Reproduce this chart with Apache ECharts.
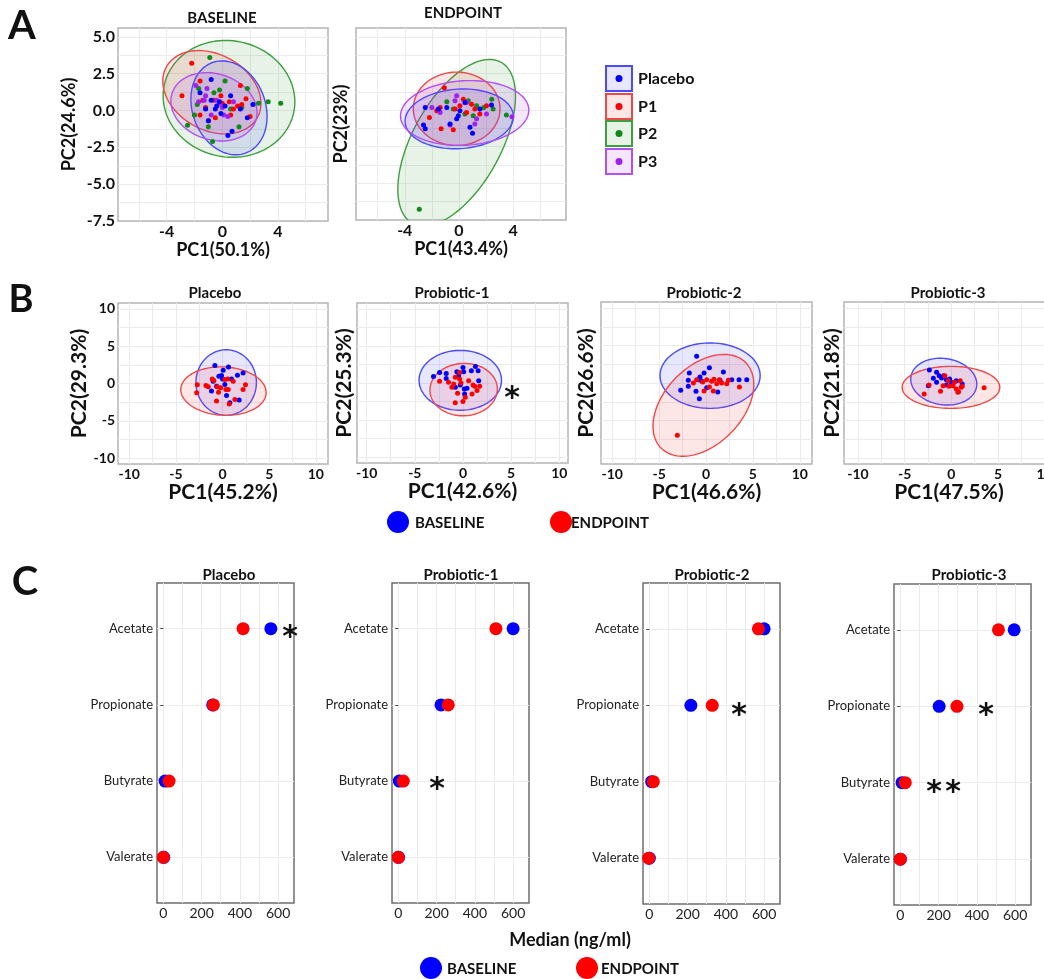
<!DOCTYPE html>
<html><head><meta charset="utf-8">
<script src="https://cdn.jsdelivr.net/npm/echarts@6/dist/echarts.min.js"></script>
<style>html,body{margin:0;padding:0;background:#fff}#c{width:1044px;height:979px}</style>
</head><body><div id="c"></div>
<script>
// ================= DATA =================
// Panel A: PCA score points per group  [PC1, PC2]
const aBasePlacebo = [[-0.8,2.1],[0.2,0.3],[-0.1,-0.2],[-0.4,0.3],[1.8,-0.5],[2.2,0.4],[0.7,-1.4],[0.4,-1.7],[-1.0,-0.7],[-1.2,0.1],[-0.8,0.7],[0.6,1.0],[1.3,0.1],[-0.2,0.6],[-0.5,0.1],[-1.6,1.2]];
const aBaseP1 = [[-2.2,3.2],[-2.9,1.0],[-1.6,2.0],[1.3,1.7],[1.7,0.8],[1.4,0.4],[0.5,0.6],[0,0.5],[-0.6,0.7],[-1.2,0.2],[-1.4,0.7],[-0.5,-0.5],[0.8,0.1],[0.6,-0.3],[-0.1,1.0],[-1.6,-0.3],[1.1,0.3],[-1.0,-0.7],[2.0,-0.4]];
const aBaseP2 = [[-0.9,3.6],[0.2,2.0],[1.8,1.5],[2.6,0.5],[3.3,0.6],[4.2,0.5],[-2.5,-1.0],[-0.7,-2.1],[1.2,-1.1],[-1.0,-1.1],[-1.7,1.5],[-1.8,0.4],[-0.6,1.2],[0.6,0.1],[1.4,0.2],[-2.0,-0.3],[-0.2,1.4]];
const aBaseP3 = [[-1.9,1.7],[-1.1,1.5],[-1.3,0.7],[-0.4,0.7],[0,0.2],[0.4,-0.4],[-1.7,0.6],[-0.8,-0.3],[0.8,0.6],[-0.2,0.5],[-1.2,1.0],[0.1,-0.3]];
const aEndPlacebo = [[-2.49,0.18],[-2.62,-1.01],[-2.49,-1.28],[-1.52,0.07],[-0.9,0.18],[-0.17,-0.6],[-0.05,-0.38],[0.44,0.52],[0.81,-1.17],[1.0,-1.58],[1.54,0.07],[2.4,0.34],[-0.66,-0.95],[0.07,-0.05]];
const aEndP1 = [[-1.08,1.53],[-2.18,-0.5],[-1.32,-1.28],[-0.42,-1.35],[0.32,0.74],[0.93,0.4],[1.17,0.07],[0.56,-0.16],[1.54,-0.27],[-1.64,-0.05],[0.07,0.29],[-0.29,0.07],[-1.39,0.18],[2.03,0.29]];
const aEndP2 = [[-2.93,-6.76],[3.5,-0.34],[2.52,0.07],[1.83,0.18],[0.68,0.63],[-0.9,0.56],[1.05,-0.38],[0.44,-0.27],[-0.42,0.07],[1.3,0.29],[2.42,0.74]];
const aEndP3 = [[3.91,-0.45],[-2.0,0.18],[-0.17,0.97],[-0.66,-1.01],[1.3,-0.6],[0.56,0.52],[-0.29,0.63],[1.17,-0.95],[2.03,-0.27],[-1.39,-0.16]];
// Panel A ellipses  [centre PC1, centre PC2, semi-axis a, semi-axis b, angle of a (deg)]
const ellABasePlacebo = [0.48, 0.18, 3.3, 2.6, -65];
const ellABaseP1 = [-0.75, 1.24, 3.7, 2.6, -25];
const ellABaseP2 = [0.48, 0.79, 4.75, 3.95, -8];
const ellABaseP3 = [-0.6, 0.25, 3.15, 2.25, -15];
const ellAEndPlacebo = [0.02, -0.6, 4.0, 2.03, 3];
const ellAEndP1 = [-0.17, 0.09, 3.2, 2.5, 0];
const ellAEndP2 = [-0.17, -2.23, 6.4, 3.2, 58];
const ellAEndP3 = [0.42, -0.2, 4.74, 2.2, 3];
const aGroups = ['Placebo', 'P1', 'P2', 'P3'];

// Panel B: PCA per arm, BASELINE vs ENDPOINT
const bPlaceboBase = [[-0.82,2.4],[0.07,1.78],[0.64,2.22],[-0.39,0.98],[-0.11,1.07],[0,0.62],[0.96,0.62],[1.6,1.11],[2.2,1.42],[-1,0.31],[-1.18,-1.02],[0.43,-1.6],[0.78,-2.58],[1.78,-2.22],[-0.64,-0.36],[0.25,-0.13]];
const bPlaceboEnd = [[-2.7,-0.18],[-2.77,-1.24],[-1.78,-0.27],[-1.1,0.62],[-0.93,0.4],[-0.57,-0.44],[-0.21,-0.58],[0.25,0.53],[0.57,0.62],[1.14,0.31],[0.61,-0.8],[-0.43,-1.16],[-0.64,-2.36],[0.71,-2.76],[1.32,-2.13],[2.2,-0.8],[2.46,-0.18],[-1.53,-0.44],[0.36,-0.8]];
const bP1Base = [[-3.06,0.89],[-2.43,1.42],[-1.74,1.29],[-1.74,0.62],[-0.63,1.51],[0,2.09],[0.07,1.51],[0.87,1.64],[1.29,2.22],[1.57,1.64],[1.63,0.31],[-0.8,-0.58],[-0.28,-0.27],[0.14,-0.8],[0.42,-0.71],[0.17,-1.47],[-0.45,0.98]];
const bP1End = [[-2.43,0.22],[-1.5,0.09],[-0.97,-0.13],[-0.8,0.76],[-0.35,0.53],[-0.21,0],[0.59,0.31],[1.04,-0.27],[1.22,-0.44],[1.74,-0.44],[1.46,-1.02],[0.94,-1.47],[-0.56,-1.38],[-0.8,-2.67],[0,-2.49],[0.24,-1.91],[-1.15,-0.58],[-0.35,1.42]];
const bP2Base = [[-1.0,3.56],[-1.78,1.33],[-1.89,0.36],[-1.89,-0.44],[-2.7,-0.98],[-1.07,-1.11],[-0.71,-2.09],[-0.46,0.27],[-0.64,0.8],[-0.21,1.33],[0.36,2.04],[1.85,1.47],[1.49,0.36],[2.74,0.44],[3.52,0.44],[4.34,0.44],[1.25,-1.2],[0.07,-0.62],[-0.82,0.44]];
const bP2End = [[-3.06,-6.98],[-1.35,0],[-1.0,0.44],[-0.36,0.13],[0.07,0.44],[0.6,0.22],[0.85,0.49],[1.14,-0.09],[1.67,0],[2.21,-0.09],[2.38,0.36],[3.56,-0.53],[0.78,-1.07],[-0.21,-1.07],[0.36,-0.53],[1.42,0.44]];
const bP3Base = [[-2.35,1.73],[-1.58,1.42],[-1.3,0.98],[-1.93,0.62],[-1.05,0.67],[-0.81,0.98],[-0.53,0.44],[-0.18,0.53],[0,0.09],[1.16,-0.13],[-1.58,0.09],[-0.53,-0.27],[-2.46,-0.36],[0.53,0.31]];
const bP3End = [[-2.91,-1.47],[-2.39,-0.27],[-1.16,-1.11],[-0.88,-0.36],[-0.7,0.98],[-0.35,0.31],[-0.25,-0.44],[0.18,-0.36],[0.53,-0.8],[0.77,-1.16],[0.95,0.31],[1.05,-0.58],[1.16,-0.44],[3.51,-0.62],[0.7,-1.24],[0.35,0.09]];
const ellBPlaceboBase = [0.39, 0.13, 4.4, 3.24, 90];
const ellBPlaceboEnd = [0.1, -1.02, 4.58, 3.24, -5];
const ellBP1Base = [-0.28, 0.36, 4.28, 4.04, 0];
const ellBP1End = [0.07, -0.89, 3.56, 3.48, 60];
const ellBP2Base = [0.43, 0.98, 5.34, 4.36, 0];
const ellBP2End = [-0.28, -2.98, 7.4, 4.5, 60];
const ellBP3Base = [-0.81, 0.18, 3.6, 3.05, -20];
const ellBP3End = [-0.04, -0.58, 5.23, 2.8, 0];

// Panel C: medians (ng/ml), order = cCategories (bottom -> top)
const cCategories = ['Valerate', 'Butyrate', 'Propionate', 'Acetate'];
const cPlaceboBase = [2, 9, 258, 562];
const cPlaceboEnd = [0, 30, 262, 417];
const cP1Base = [1, 5, 223, 600];
const cP1End = [0, 26, 261, 510];
const cP2Base = [0, 12, 217, 600];
const cP2End = [-3, 21, 329, 570];
const cP3Base = [0, 9, 203, 595];
const cP3End = [0, 26, 296, 513];

// Tick labels
const aXTicks = [-4, 0, 4];
const aYTicks = [-7.5, -5, -2.5, 0, 2.5, 5];
const bTicks = [-10, -5, 0, 5, 10];
const cXTicks = [0, 200, 400, 600];

// ================= BUILD =================
const FONT = "Lato, 'Open Sans', sans-serif";
const PT = {Placebo:'#0000ff', P1:'#ff0000', P2:'#11881a', P3:'#a020f0'};
const EL = {Placebo:['#4a4aff','rgba(70,70,255,0.13)'], P1:['#f04848','rgba(240,60,60,0.13)'],
            P2:['#3f9f3f','rgba(60,160,60,0.13)'], P3:['#b050f0','rgba(170,70,240,0.13)']};
const grids=[], xAxes=[], yAxes=[], series=[], graphics=[];
function steps(a,b,s){const r=[];for(let v=a;v<=b+1e-9;v+=s)r.push(+v.toFixed(4));return r;}

function addGrid(o){
  const gi = grids.length;
  grids.push({left:o.left, top:o.top, width:o.width, height:o.height, show:true, backgroundColor:'#ffffff',
    borderColor:o.border||'#b4b4b4', borderWidth:1.5, containLabel:false, outerBoundsMode:'none'});
  xAxes.push({gridIndex:gi, type:'value', min:o.xMin, max:o.xMax,
    name:o.xName||'', nameLocation:'middle', nameGap:o.xNameGap||0,
    nameTextStyle:{fontFamily:FONT, fontWeight:'bold', fontSize:o.nameSize||17, color:'#111'},
    axisLine:{show:false}, axisTick:{show:false, customValues:o.xGrid},
    axisLabel:{show:!!o.xLabels, customValues:o.xLabels||[], margin:o.xMargin||3, fontFamily:FONT,
      fontWeight:o.tickWeight||'bold', fontSize:o.tickSize||14, color:o.tickColor||'#111', formatter:v=>String(v)},
    splitLine:{show:true, lineStyle:{color:'#ebebeb', width:1}}});
  yAxes.push({gridIndex:gi, type:'value', min:o.yMin, max:o.yMax,
    name:o.yName||'', nameLocation:'middle', nameGap:o.yNameGap||0,
    nameTextStyle:{fontFamily:FONT, fontWeight:'bold', fontSize:o.nameSize||17, color:'#111'},
    axisLine:{show:false}, axisTick:{show:!!o.yTickShow, length:3, lineStyle:{color:'#444'}, customValues:o.yGrid},
    axisLabel:{show:!!o.yLabels, customValues:o.yLabels||[], margin:o.yMargin||3, fontFamily:FONT,
      fontWeight:o.yTickWeight||'bold', fontSize:o.yTickSize||14, color:o.tickColor||'#111', formatter:o.yFmt||(v=>String(v))},
    splitLine:{show:true, lineStyle:{color:'#ebebeb', width:1}}});
  return gi;
}
function ellipse(gi, p, grp, z){
  series.push({type:'custom', xAxisIndex:gi, yAxisIndex:gi, clip:true, silent:true, z:z||1, data:[p],
    renderItem:(params, api)=>{
      const cx=api.value(0), cy=api.value(1), a=api.value(2), b=api.value(3), th=api.value(4)*Math.PI/180;
      const pts=[];
      for(let k=0;k<=120;k++){const t=k/120*2*Math.PI;
        pts.push(api.coord([cx+a*Math.cos(t)*Math.cos(th)-b*Math.sin(t)*Math.sin(th),
                            cy+a*Math.cos(t)*Math.sin(th)+b*Math.sin(t)*Math.cos(th)]));}
      return {type:'polygon', shape:{points:pts}, style:{fill:EL[grp][1], stroke:EL[grp][0], lineWidth:1.4}};
    }});
}
function points(gi, data, color, size, z){
  series.push({type:'scatter', xAxisIndex:gi, yAxisIndex:gi, data, symbolSize:size, silent:true, z:z||3,
    itemStyle:{color, opacity:1}});
}
function T(text, x, y, size, o){ o=o||{};
  graphics.push({type:'text', x, y, silent:true, z:100, style:{text, fill:o.color||'#111',
    font:(o.weight||'bold')+' '+size+'px '+(o.family||FONT), align:o.align||'center', verticalAlign:'middle'}});
}
function dot(cx, cy, r, fill){ graphics.push({type:'circle', silent:true, z:100, shape:{cx,cy,r}, style:{fill}}); }

// ---- Panel A ----
const aY = {yMin:-7.5, yMax:5.6, yGrid:steps(-6.25,5,1.25), nameSize:18, tickSize:16, yTickSize:16};
const gA1 = addGrid(Object.assign({left:118, top:28, width:210, height:193, xMin:-7.5, xMax:7.6, xGrid:steps(-6,6,2),
  xLabels:aXTicks, yLabels:aYTicks, yFmt:v=>v.toFixed(1), xName:'PC1(50.1%)', xNameGap:14, yName:'PC2(24.6%)', yNameGap:40}, aY));
const gA2 = addGrid(Object.assign({left:356, top:28, width:210, height:192, xMin:-7.6, xMax:7.9, xGrid:steps(-6,6,2),
  xLabels:aXTicks, xName:'PC1(43.4%)', xNameGap:14, yName:'PC2(23%)', yNameGap:6}, aY));
ellipse(gA1, ellABaseP2, 'P2'); ellipse(gA1, ellABaseP1, 'P1'); ellipse(gA1, ellABasePlacebo, 'Placebo'); ellipse(gA1, ellABaseP3, 'P3');
points(gA1, aBaseP2, PT.P2, 5); points(gA1, aBaseP1, PT.P1, 5); points(gA1, aBaseP3, PT.P3, 5); points(gA1, aBasePlacebo, PT.Placebo, 5);
ellipse(gA2, ellAEndP2, 'P2'); ellipse(gA2, ellAEndP1, 'P1'); ellipse(gA2, ellAEndPlacebo, 'Placebo'); ellipse(gA2, ellAEndP3, 'P3');
points(gA2, aEndP2, PT.P2, 5); points(gA2, aEndP1, PT.P1, 5); points(gA2, aEndP3, PT.P3, 5); points(gA2, aEndPlacebo, PT.Placebo, 5);
T('BASELINE', 222, 18, 15); T('ENDPOINT', 463, 13, 15);
// legend A
const legTop = [66, 94, 121, 149];
aGroups.forEach((g,i)=>{
  graphics.push({type:'rect', silent:true, z:100, shape:{x:606, y:legTop[i], width:26, height:25},
    style:{fill:EL[g][1], stroke:EL[g][0], lineWidth:2}});
  dot(619, legTop[i]+12.5, 3.5, PT[g]);
  T(g, 638, legTop[i]+13, 16, {align:'left'});
});

// ---- Panel B ----
const bY = {yMin:-10.8, yMax:10.8, yGrid:steps(-10,10,2.5), xGrid:steps(-10,10,2.5), xLabels:bTicks, nameSize:21, tickSize:14, yTickSize:14, xNameGap:16};
const gB1 = addGrid(Object.assign({left:118, top:303, width:210, height:161, xMin:-11.2, xMax:11.3, yLabels:bTicks,
  xName:'PC1(45.2%)', yName:'PC2(29.3%)', yNameGap:21}, bY));
const gB2 = addGrid(Object.assign({left:357, top:303, width:211, height:160, xMin:-11.0, xMax:10.9,
  xName:'PC1(42.6%)', yName:'PC2(25.3%)', yNameGap:2}, bY));
const gB3 = addGrid(Object.assign({left:601, top:302, width:211, height:162, xMin:-11.2, xMax:11.3,
  xName:'PC1(46.6%)', yName:'PC2(26.6%)', yNameGap:4}, bY));
const gB4 = addGrid(Object.assign({left:844, top:302, width:210, height:162, xMin:-11.5, xMax:11.0,
  xName:'PC1(47.5%)', yName:'PC2(21.8%)', yNameGap:1}, bY));
[[gB1,ellBPlaceboBase,ellBPlaceboEnd,bPlaceboBase,bPlaceboEnd],[gB2,ellBP1Base,ellBP1End,bP1Base,bP1End],
 [gB3,ellBP2Base,ellBP2End,bP2Base,bP2End],[gB4,ellBP3Base,ellBP3End,bP3Base,bP3End]].forEach(r=>{
  ellipse(r[0], r[1], 'Placebo'); ellipse(r[0], r[2], 'P1');
  points(r[0], r[3], PT.Placebo, 5); points(r[0], r[4], PT.P1, 5);
});
T('Placebo', 215, 293, 15); T('Probiotic-1', 452, 293, 15); T('Probiotic-2', 704, 293, 15); T('Probiotic-3', 948, 293, 15);
dot(398, 522, 11, '#0000ff'); T('BASELINE', 415, 523, 15, {align:'left'});
dot(561, 522, 11, '#ff0000'); T('ENDPOINT', 571, 523, 15, {align:'left'});

// ---- Panel C ----
const cOpt = {xMin:-33, xMax:683, xGrid:steps(0,600,100), xLabels:cXTicks, yMin:0.4, yMax:4.6, yGrid:[1,2,3,4], yLabels:[1,2,3,4],
  yFmt:v=>cCategories[Math.round(v)-1], yTickShow:true, tickWeight:'normal', yTickWeight:'normal', tickSize:14, yTickSize:13,
  tickColor:'#222', border:'#6e6e6e', xMargin:3, yMargin:4};
const cRows = [
  [157, 583, 320, cPlaceboBase, cPlaceboEnd, 'Placebo', 229],
  [392, 583, 320, cP1Base, cP1End, 'Probiotic-1', 461],
  [643, 583, 321, cP2Base, cP2End, 'Probiotic-2', 712],
  [894, 584, 321, cP3Base, cP3End, 'Probiotic-3', 969]];
cRows.forEach(r=>{
  const g = addGrid(Object.assign({left:r[0], top:r[1], width:137, height:r[2]}, cOpt));
  points(g, r[3].map((v,i)=>[v, i+1]), '#0000ff', 13, 3);
  points(g, r[4].map((v,i)=>[v, i+1]), '#ff0000', 13, 4);
  T(r[5], r[6], 575, 15);
});
T('Median (ng/ml)', 570, 940, 18);
dot(431, 968, 11, '#0000ff'); T('BASELINE', 447, 969, 15, {align:'left'});
dot(587, 968, 11, '#ff0000'); T('ENDPOINT', 601, 969, 15, {align:'left'});

// significance marks (asterisks)
const STAR = 30, STARFONT = "'DejaVu Sans', sans-serif";
[[512,393],[290,632],[437,784],[739,710],[986,710],[934,787],[953,787]].forEach(s=>T('*', s[0], s[1]+STAR*0.2, STAR, {family:STARFONT}));
// panel letters
T('A', 22, 26, 40); T('B', 21, 300, 38); T('C', 25, 582, 40);

const chart = echarts.init(document.getElementById('c'), null, {renderer:'canvas'});
chart.setOption({animation:false, backgroundColor:'#ffffff', grid:grids, xAxis:xAxes, yAxis:yAxes, series, graphic:graphics});
</script></body></html>
